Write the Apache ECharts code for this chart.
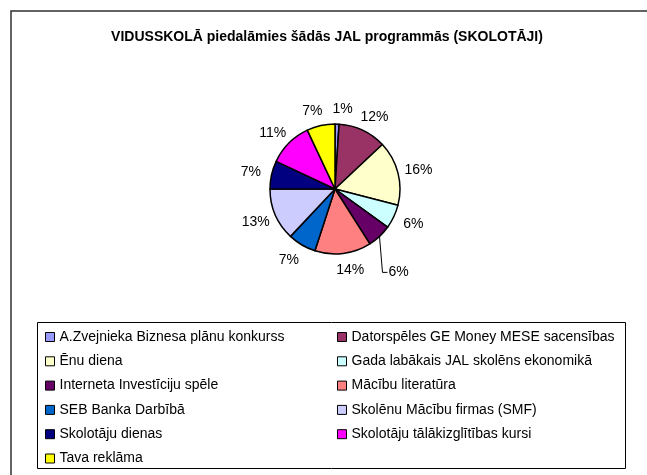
<!DOCTYPE html>
<html>
<head>
<meta charset="utf-8">
<script src="https://cdn.jsdelivr.net/npm/echarts@6/dist/echarts.min.js"></script>
<style>
  html, body { margin: 0; padding: 0; background: #fff; }
  #chart { width: 647px; height: 475px; }
</style>
</head>
<body>
<div id="chart"></div>
<script>
// programmas un to daļas (%)
var programmes = [
  'A.Zvejnieka Biznesa plānu konkurss',
  'Datorspēles GE Money MESE sacensības',
  'Ēnu diena',
  'Gada labākais JAL skolēns ekonomikā',
  'Interneta Investīciju spēle',
  'Mācību literatūra',
  'SEB Banka Darbībā',
  'Skolēnu Mācību firmas (SMF)',
  'Skolotāju dienas',
  'Skolotāju tālākizglītības kursi',
  'Tava reklāma'
]
var shares = [1, 12, 16, 6, 6, 14, 7, 13, 7, 11, 7]
var colours = ['#9999FF', '#993366', '#FFFFCC', '#CCFFFF', '#660066', '#FF8080',
  '#0066CC', '#CCCCFF', '#000080', '#FF00FF', '#FFFF00']

var font = '"Liberation Sans", Arial, sans-serif'
var pieCenter = [335, 189]
var leaderIndex = 4 // šai daļai uzraksts ar vilktu līniju

var chart = echarts.init(document.getElementById('chart'))

var pieData = programmes.map(function (name, i) {
  var item = {
    name: name,
    value: shares[i],
    itemStyle: { color: colours[i] }
  }
  if (i === leaderIndex) {
    item.labelLine = { show: true, length: 20, length2: 4 }
  }
  return item
})

// leģenda divās kolonnās
var leftCol = programmes.filter(function (n, i) { return i % 2 === 0 })
var rightCol = programmes.filter(function (n, i) { return i % 2 === 1 })

function legendAt (left, names) {
  return {
    orient: 'vertical',
    left: left,
    top: 330,
    itemWidth: 9,
    itemHeight: 9,
    itemGap: 10.3,
    icon: 'rect',
    padding: 0,
    itemStyle: { borderColor: '#000', borderWidth: 1 },
    textStyle: { fontFamily: font, fontSize: 14, color: '#000' },
    data: names
  }
}

var option = {
  animation: false,
  color: colours,
  title: {
    text: 'VIDUSSKOLĀ piedalāmies šādās JAL programmās (SKOLOTĀJI)',
    left: 322,
    textAlign: 'center',
    top: 25,
    textStyle: { fontFamily: font, fontSize: 14, fontWeight: 'bold', color: '#000' }
  },
  graphic: [
    {
      type: 'rect',
      shape: { x: 11, y: 11, width: 700, height: 600 },
      style: { fill: 'none', stroke: '#303030', lineWidth: 1.5 },
      silent: true
    },
    {
      type: 'rect',
      shape: { x: 37.5, y: 322.5, width: 588, height: 146 },
      style: { fill: 'none', stroke: '#000', lineWidth: 1 },
      silent: true
    }
  ],
  legend: [legendAt(45, leftCol), legendAt(337, rightCol)],
  series: [{
    type: 'pie',
    center: pieCenter,
    radius: 65,
    startAngle: 90,
    clockwise: true,
    avoidLabelOverlap: false,
    itemStyle: { borderColor: '#000', borderWidth: 1.5 },
    label: {
      position: 'outside',
      fontFamily: font,
      fontSize: 14,
      color: '#000',
      formatter: function (p) { return Math.round(p.percent) + '%' }
    },
    labelLine: {
      show: false,
      length: 16,
      length2: 0,
      lineStyle: { color: '#000', width: 1 }
    },
    labelLayout: function (p) {
      var r = p.labelRect
      var midY = r.y + r.height / 2
      if (p.dataIndex === leaderIndex) {
        // līnija iet gandrīz vertikāli lejup līdz uzrakstam
        var start = p.labelLinePoints[0]
        var ly = start[1] + 36
        var lx = start[0] + 9
        return {
          x: lx, y: ly, align: 'left', verticalAlign: 'middle',
          labelLinePoints: [start, [start[0] + 3, ly], [lx - 1, ly]]
        }
      }
      // pārējie uzraksti centrēti pie enkura punkta
      var onRight = r.x + r.width / 2 > pieCenter[0]
      var ax = onRight ? r.x : r.x + r.width
      return { x: ax, y: midY + 1, align: 'center', verticalAlign: 'middle' }
    },
    data: pieData
  }]
}

chart.setOption(option)
</script>
</body>
</html>
